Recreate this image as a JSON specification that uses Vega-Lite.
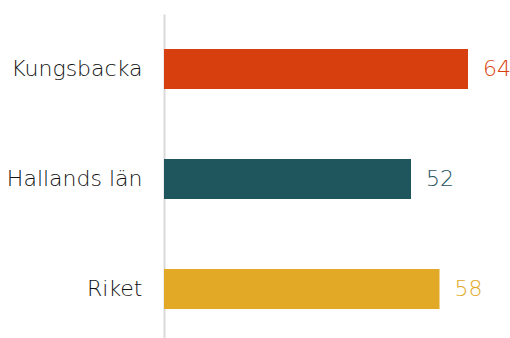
{
  "$schema": "https://vega.github.io/schema/vega-lite/v6.json",
  "width": 346,
  "height": 330,
  "autosize": {"type": "none"},
  "padding": {"left": 164, "top": 14, "right": 0, "bottom": 0},
  "background": "white",
  "config": {"view": {"stroke": null}},
  "data": {
    "values": [
      {"region": "Kungsbacka", "value": 64},
      {"region": "Hallands län", "value": 52},
      {"region": "Riket", "value": 58}
    ]
  },
  "encoding": {
    "y": {
      "field": "region",
      "type": "nominal",
      "sort": ["Kungsbacka", "Hallands län", "Riket"],
      "scale": {"paddingInner": 0.636, "paddingOuter": 0.318},
      "axis": {
        "title": null,
        "ticks": false,
        "domainColor": "#d9d9d9",
        "domainWidth": 2,
        "labelFont": "DejaVu Sans",
        "labelFontWeight": 200,
        "labelFontSize": 22,
        "labelColor": "#111111",
        "labelPadding": 22
      }
    },
    "x": {
      "field": "value",
      "type": "quantitative",
      "scale": {"domain": [0, 72.84], "nice": false},
      "axis": null
    },
    "color": {
      "field": "region",
      "type": "nominal",
      "scale": {
        "domain": ["Kungsbacka", "Hallands län", "Riket"],
        "range": ["#D83F0F", "#1F555D", "#E2A927"]
      },
      "legend": null
    }
  },
  "layer": [
    {"mark": {"type": "bar"}},
    {
      "mark": {"type": "text", "align": "left", "dx": 15, "font": "DejaVu Sans", "fontWeight": 200, "fontSize": 22},
      "encoding": {"text": {"field": "value", "type": "quantitative"}}
    }
  ]
}
